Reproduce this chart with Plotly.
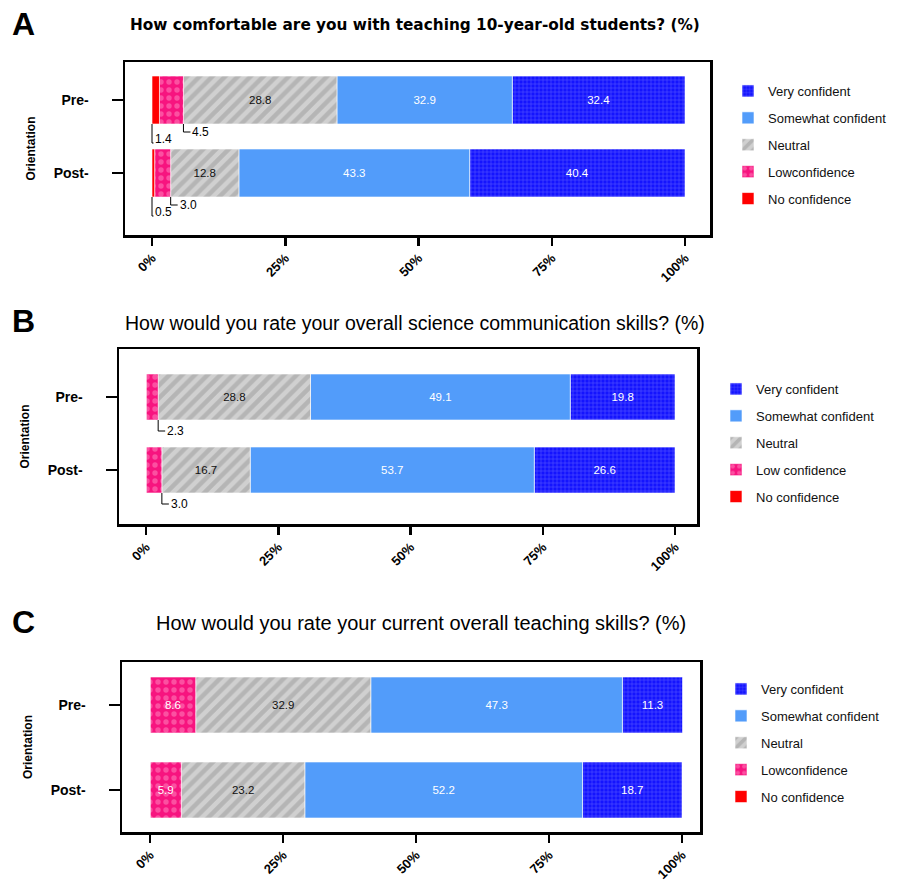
import plotly.graph_objects as go

# ---------------- data ----------------
orientation = ["Pre-", "Post-"]
levels = ["No confidence", "Low confidence", "Neutral", "Somewhat confident", "Very confident"]
legend_names_a = ["No confidence", "Lowconfidence", "Neutral", "Somewhat confident", "Very confident"]
legend_names_b = ["No confidence", "Low confidence", "Neutral", "Somewhat confident", "Very confident"]
legend_names_c = ["No confidence", "Lowconfidence", "Neutral", "Somewhat confident", "Very confident"]

title_a = "How comfortable are you with teaching 10-year-old students? (%)"
title_b = "How would you rate your overall science communication skills? (%)"
title_c = "How would you rate your current overall teaching skills? (%)"
panel_letters = ["A", "B", "C"]

a_no = [1.4, 0.5]
a_low = [4.5, 3.0]
a_neutral = [28.8, 12.8]
a_somewhat = [32.9, 43.3]
a_very = [32.4, 40.4]

b_no = [0.0, 0.0]
b_low = [2.3, 3.0]
b_neutral = [28.8, 16.7]
b_somewhat = [49.1, 53.7]
b_very = [19.8, 26.6]

c_no = [0.0, 0.0]
c_low = [8.6, 5.9]
c_neutral = [32.9, 23.2]
c_somewhat = [47.3, 52.2]
c_very = [11.3, 18.7]

pct_ticks = [0, 25, 50, 75, 100]
pct_labels = ["0%", "25%", "50%", "75%", "100%"]

# ---------------- styles ----------------
W, H = 904, 885
FONT = "Liberation Sans, Arial, sans-serif"

seg_style = {
    "No confidence": dict(color="#ff0000"),
    "Low confidence": dict(color="#f7147f",
                           pattern=dict(shape=".", fgcolor="#ff8cc4", bgcolor="#f7147f", size=8, solidity=0.35)),
    "Neutral": dict(color="#d0d0d0",
                    pattern=dict(shape="/", fgcolor="#999999", bgcolor="#d0d0d0", size=9, solidity=0.5)),
    "Somewhat confident": dict(color="#529cfa"),
    "Very confident": dict(color="#1414ff",
                           pattern=dict(shape="+", fgcolor="#9a9aff", bgcolor="#1414ff", size=4, solidity=0.25)),
}
text_color = {"No confidence": "white", "Low confidence": "white", "Neutral": "#111111",
              "Somewhat confident": "white", "Very confident": "white"}

# panel geometry in pixels
panels = [
    dict(data=[a_no, a_low, a_neutral, a_somewhat, a_very], names=legend_names_a, title=title_a,
         box=(125, 710, 62, 235), x0=152, x100=685, centers=(100, 173), bar_h=48,
         title_xy=(415, 25), title_font=dict(family="DejaVu Sans, Liberation Sans, sans-serif", size=15.3, weight="bold"),
         letter_y=24, legend_xy=(728, 76), drop_no=19, drop_low=8),
    dict(data=[b_no, b_low, b_neutral, b_somewhat, b_very], names=legend_names_b, title=title_b,
         box=(119, 697, 349, 524), x0=146, x100=675, centers=(397, 470), bar_h=46,
         title_xy=(415, 323), title_font=dict(family=FONT, size=19.5),
         letter_y=321, legend_xy=(716, 374), drop_no=19, drop_low=11),
    dict(data=[c_no, c_low, c_neutral, c_somewhat, c_very], names=legend_names_c, title=title_c,
         box=(122, 700, 662, 832), x0=150, x100=682, centers=(705, 790), bar_h=56,
         title_xy=(421, 623), title_font=dict(family=FONT, size=20),
         letter_y=622, legend_xy=(721, 674), drop_no=19, drop_low=11),
]

fig = go.Figure()
shapes = []
annotations = []
layout_axes = {}

for i, p in enumerate(panels):
    sfx = "" if i == 0 else str(i + 1)
    xa, ya = "x" + sfx, "y" + sfx
    leg = "legend" + sfx
    left, right, top, bottom = p["box"]
    c0, c1 = p["centers"]
    unit = c1 - c0
    pxpct = (p["x100"] - p["x0"]) / 100.0
    bar_w = p["bar_h"] / unit
    yvals = list(range(len(orientation)))

    # cumulative starts of each segment
    starts = []
    cum = [0.0] * len(orientation)
    for k in range(len(levels)):
        starts.append(cum[:])
        cum = [cum[r] + p["data"][k][r] for r in range(len(orientation))]

    # add traces from "Very confident" down so the legend lists it first
    for k in reversed(range(len(levels))):
        lvl = levels[k]
        vals = p["data"][k]
        base = starts[k]
        txt = [("%.1f" % v) if v >= 5 else "" for v in vals]
        st = seg_style[lvl]
        marker = dict(color=st["color"], line=dict(color="white", width=0.6))
        if "pattern" in st:
            marker["pattern"] = st["pattern"]
        fig.add_trace(go.Bar(
            x=vals, y=yvals, base=base, orientation="h", width=bar_w,
            name=p["names"][k], legendgroup=f"g{i}{4 - k}", legend=leg,
            marker=marker, text=txt, textposition="inside", insidetextanchor="middle",
            textangle=0, textfont=dict(family=FONT, size=11.5, color=text_color[lvl]),
            xaxis=xa, yaxis=ya, hoverinfo="skip",
        ))
        # bracket labels for small segments
        for r, v in enumerate(vals):
            if 0 < v < 5:
                ybot = yvals[r] + bar_w / 2
                if lvl == "No confidence":
                    xa_ = base[r]
                    drop = p["drop_no"] / unit
                    shapes.append(dict(type="path", xref=xa, yref=ya,
                                       path=f"M {xa_},{ybot} L {xa_},{ybot + drop} L {xa_ + 1.5 / pxpct},{ybot + drop}",
                                       line=dict(color="black", width=1)))
                    annotations.append(dict(x=xa_ + 0.5 / pxpct, y=ybot + drop - 4 / unit, xref=xa, yref=ya,
                                            text="%.1f" % v, showarrow=False, xanchor="left", yanchor="middle",
                                            font=dict(family=FONT, size=12, color="black")))
                else:
                    xa_ = base[r] + v
                    drop = p["drop_low"] / unit
                    shapes.append(dict(type="path", xref=xa, yref=ya,
                                       path=f"M {xa_},{ybot} L {xa_},{ybot + drop} L {xa_ + 7 / pxpct},{ybot + drop}",
                                       line=dict(color="black", width=1)))
                    annotations.append(dict(x=xa_ + 7 / pxpct, y=ybot + drop, xref=xa, yref=ya,
                                            text="%.1f" % v, showarrow=False, xanchor="left", yanchor="middle",
                                            font=dict(family=FONT, size=12, color="black")))

    xr = [(left - p["x0"]) / pxpct, (right - p["x0"]) / pxpct]
    yr = [(bottom - c0) / unit, (top - c0) / unit]
    layout_axes["xaxis" + sfx] = dict(
        domain=[left / W, right / W], range=xr, anchor=ya, automargin=False,
        tickvals=pct_ticks, ticktext=pct_labels, tickangle=-45,
        tickfont=dict(family=FONT, size=13, color="black", weight="bold"),
        showline=True, mirror=True, linecolor="black", linewidth=2.5,
        ticks="outside", ticklen=8, tickwidth=2.5, tickcolor="black",
        showgrid=False, zeroline=False, fixedrange=True)
    layout_axes["yaxis" + sfx] = dict(
        domain=[1 - bottom / H, 1 - top / H], range=yr, anchor=xa, automargin=False,
        tickvals=yvals, ticktext=orientation, ticklabelstandoff=20,
        tickfont=dict(family=FONT, size=14, color="black", weight="bold"),
        showline=True, mirror=True, linecolor="black", linewidth=2.5,
        ticks="outside", ticklen=11, tickwidth=2.5, tickcolor="black",
        title=dict(text="Orientation", font=dict(family=FONT, size=12, color="black", weight="bold"), standoff=16),
        showgrid=False, zeroline=False, fixedrange=True)
    layout_axes[leg] = dict(
        x=p["legend_xy"][0] / W, y=1 - p["legend_xy"][1] / H, xanchor="left", yanchor="top",
        traceorder="grouped", tracegroupgap=7,
        font=dict(family=FONT, size=13, color="#111111"), bgcolor="rgba(0,0,0,0)")

    annotations.append(dict(x=p["title_xy"][0] / W, y=1 - p["title_xy"][1] / H, xref="paper", yref="paper",
                            text=p["title"], showarrow=False, xanchor="center", yanchor="middle",
                            font=dict(color="black", **p["title_font"])))
    annotations.append(dict(x=10 / W, y=1 - p["letter_y"] / H, xref="paper", yref="paper",
                            text=panel_letters[i], showarrow=False, xanchor="left", yanchor="middle",
                            font=dict(family=FONT, size=32, color="black", weight="bold")))

fig.update_layout(
    width=W, height=H, margin=dict(l=0, r=0, t=0, b=0, autoexpand=False),
    paper_bgcolor="white", plot_bgcolor="white",
    barmode="overlay", showlegend=True, bargap=0,
    shapes=shapes, annotations=annotations,
    **layout_axes,
)

fig.write_html("out.html", config={"displayModeBar": False, "staticPlot": True},
               post_script="document.body.style.margin='0';document.body.style.overflow='hidden';")
